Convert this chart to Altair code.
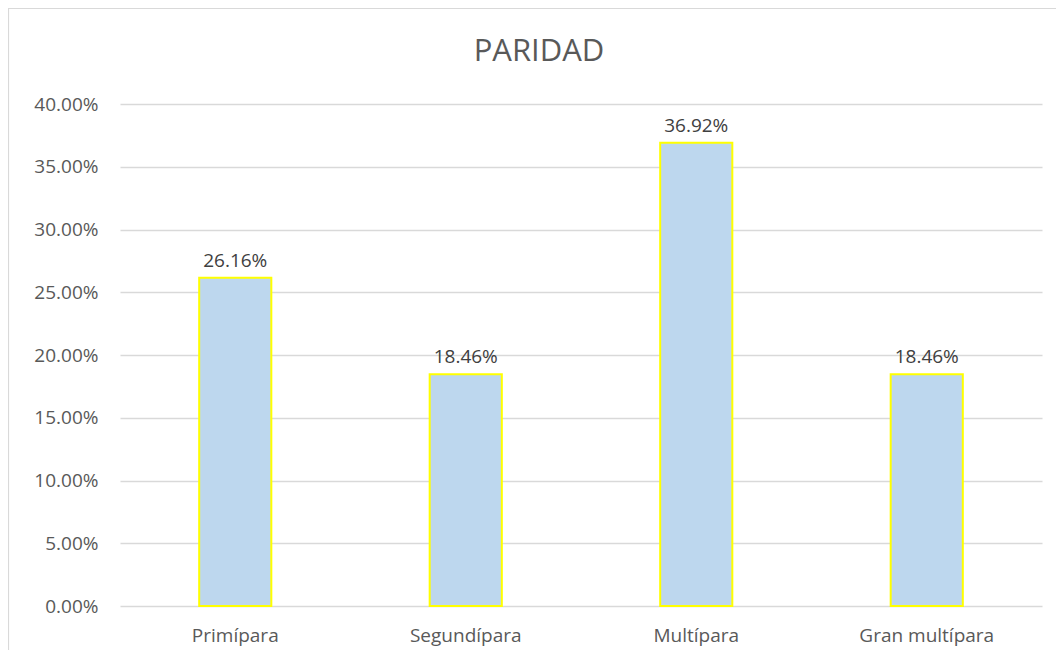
import altair as alt
import pandas as pd

categories = ["Primípara", "Segundípara", "Multípara", "Gran multípara"]
values = [0.2616, 0.1846, 0.3692, 0.1846]
y_ticks = [0.0, 0.05, 0.10, 0.15, 0.20, 0.25, 0.30, 0.35, 0.40]
title_text = "PARIDAD"

df = pd.DataFrame({"cat": categories, "val": values})

FONT = "Open Sans"
W, H = 922, 502

x = alt.X("cat:N", sort=categories, title=None,
          scale=alt.Scale(paddingInner=0.687, paddingOuter=0.3435),
          axis=alt.Axis(labelAngle=0, domain=False, ticks=False, grid=False, labelPadding=20,
                        labelFontSize=19, labelColor="#595959", labelFont=FONT))
y = alt.Y("val:Q", title=None,
          scale=alt.Scale(domain=[0, 0.40], nice=False),
          axis=alt.Axis(values=y_ticks, format=".2%", domain=False, ticks=False,
                        labelPadding=22, labelFontSize=19, labelColor="#595959",
                        labelFont=FONT, gridColor="#D9D9D9", gridWidth=1.3))

border = alt.Chart(alt.Data(values=[{}])).mark_rect(
    fill=None, stroke="#D9D9D9", strokeWidth=1.2
).encode(x=alt.value(-111.5), x2=alt.value(1200), y=alt.value(-95.5), y2=alt.value(900))

title = alt.Chart(alt.Data(values=[{"t": title_text}])).mark_text(
    fontSize=31, font=FONT, color="#595959", baseline="alphabetic", align="center"
).encode(x=alt.value(419), y=alt.value(-43), text="t:N")

bars = alt.Chart(df).mark_bar(
    fill="#BDD7EE", stroke="#FFFF00", strokeWidth=2
).encode(x=x, y=y)

labels = alt.Chart(df).mark_text(
    baseline="alphabetic", dy=-11, fontSize=19, color="#404040", font=FONT
).encode(x=alt.X("cat:N", sort=categories), y="val:Q", text=alt.Text("val:Q", format=".2%"))

chart = alt.layer(border, title, bars, labels).properties(
    width=W, height=H,
    background="white",
    padding={"left": 112, "top": 96, "right": 14, "bottom": 44},
    autosize=alt.AutoSizeParams(type="none"),
).configure_view(stroke="transparent", strokeWidth=0)

chart.save("out.html", embed_options={"renderer": "svg", "actions": False})
